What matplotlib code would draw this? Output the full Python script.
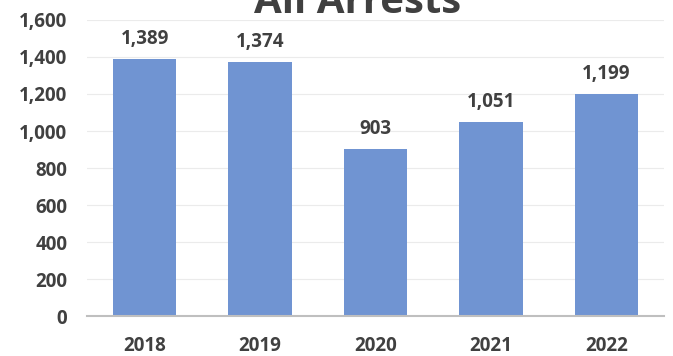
import matplotlib
matplotlib.use("Agg")
import matplotlib.pyplot as plt
from matplotlib.ticker import FuncFormatter

# data
years = ["2018", "2019", "2020", "2021", "2022"]
arrests = [1389, 1374, 903, 1051, 1199]
y_ticks = [0, 200, 400, 600, 800, 1000, 1200, 1400, 1600]

bar_color = "#7094d2"
text_color = "#404040"

plt.rcParams["font.family"] = ["Open Sans", "DejaVu Sans"]

fig = plt.figure(figsize=(6.73, 3.56), dpi=100)
ax = fig.add_axes([0.129, 0.112, 0.858, 0.832])

x = range(len(years))
bars = ax.bar(x, arrests, width=0.55, color=bar_color, zorder=3)

for rect, val in zip(bars, arrests):
    ax.annotate(f"{val:,}", (rect.get_x() + rect.get_width() / 2, val),
                xytext=(0, 7), textcoords="offset points",
                ha="center", va="bottom", fontsize=13.5, fontweight="bold",
                color=text_color)

ax.set_xlim(-0.5, len(years) - 0.5)
ax.set_ylim(0, 1600)
ax.set_yticks(y_ticks)
ax.yaxis.set_major_formatter(FuncFormatter(lambda v, p: f"{int(v):,}"))
ax.set_xticks(list(x))
ax.set_xticklabels(years)

ax.grid(axis="y", color="#ebebeb", linewidth=0.8, zorder=0)
for side in ["top", "right", "left"]:
    ax.spines[side].set_visible(False)
ax.spines["bottom"].set_color("#bfbfbf")
ax.spines["bottom"].set_linewidth(1.5)
ax.spines["bottom"].set_zorder(4)

ax.tick_params(axis="both", length=0, labelsize=13.5, labelcolor=text_color)
ax.tick_params(axis="y", pad=14)
ax.tick_params(axis="x", pad=14)
for lbl in ax.get_xticklabels() + ax.get_yticklabels():
    lbl.set_fontweight("bold")

# title is partly cut off at the top edge, as in the reference
fig.text(0.532, 1 - 13 / 356, "All Arrests", ha="center", va="baseline",
         fontsize=29, fontweight="bold", color=text_color)

fig.savefig("out.png", dpi=100)
